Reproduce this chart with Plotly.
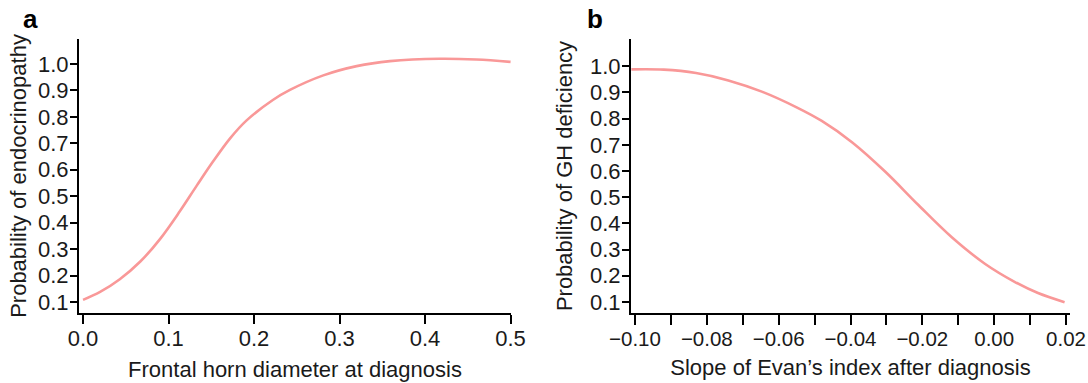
import plotly.graph_objects as go

# Panel a: frontal horn diameter vs probability of endocrinopathy
a_x = [0.0, 0.020, 0.043, 0.067, 0.090, 0.113, 0.133, 0.152, 0.172, 0.191, 0.222, 0.242, 0.281, 0.320, 0.359, 0.417, 0.460, 0.500]
a_y = [0.108, 0.138, 0.186, 0.253, 0.338, 0.442, 0.540, 0.631, 0.719, 0.786, 0.864, 0.902, 0.957, 0.992, 1.011, 1.020, 1.017, 1.008]

# Panel b: slope of Evan's index vs probability of GH deficiency
b_x = [-0.101, -0.092, -0.083, -0.074, -0.0645, -0.055, -0.048, -0.0395, -0.0303, -0.0211, -0.0118, -0.0026, 0.0058, 0.0122, 0.0196]
b_y = [0.988, 0.987, 0.974, 0.946, 0.902, 0.843, 0.791, 0.709, 0.597, 0.470, 0.347, 0.246, 0.176, 0.134, 0.099]

y_ticks = [0.1, 0.2, 0.3, 0.4, 0.5, 0.6, 0.7, 0.8, 0.9, 1.0]
y_labels = ["0.1", "0.2", "0.3", "0.4", "0.5", "0.6", "0.7", "0.8", "0.9", "1.0"]
a_xticks = [0.0, 0.1, 0.2, 0.3, 0.4, 0.5]
a_xlabels = ["0.0", "0.1", "0.2", "0.3", "0.4", "0.5"]
b_xticks = [-0.10, -0.09, -0.08, -0.07, -0.06, -0.05, -0.04, -0.03, -0.02, -0.01, 0.00, 0.01, 0.02]
b_xlabels = ["\u22120.10", "", "\u22120.08", "", "\u22120.06", "", "\u22120.04", "", "\u22120.02", "", "0.00", "", "0.02"]

LINE = "rgb(249,152,152)"
FONT = "Liberation Sans, Arial, Helvetica, sans-serif"
TXT = "#1a1a1a"
FS = 22
W, H = 1088, 383
T, B = 39, 383 - 313
PH = H - T - B

fig = go.Figure()
fig.add_trace(go.Scatter(x=a_x, y=a_y, mode="lines", line=dict(color=LINE, width=2.6, shape="spline", smoothing=1.0),
                         xaxis="x", yaxis="y", showlegend=False, hoverinfo="skip"))
fig.add_trace(go.Scatter(x=b_x, y=b_y, mode="lines", line=dict(color=LINE, width=2.6, shape="spline", smoothing=1.0),
                         xaxis="x2", yaxis="y2", showlegend=False, hoverinfo="skip"))

axis_common = dict(showgrid=False, zeroline=False, showline=True, linecolor="black", linewidth=2,
                   ticks="outside", tickcolor="black", tickwidth=2, mirror=False, automargin=False)

def px(p):
    return p / W

fig.update_layout(
    width=W, height=H,
    margin=dict(l=0, r=0, t=T, b=B),
    paper_bgcolor="white", plot_bgcolor="white",
    font=dict(family=FONT, size=FS, color=TXT),
    xaxis=dict(domain=[px(79), px(511)], range=[-0.0047, 0.5005], tickvals=a_xticks, ticktext=a_xlabels,
               ticklen=9, anchor="y", ticklabelstandoff=-4, tickfont=dict(family=FONT, size=FS, color=TXT),
               title=dict(text="Frontal horn diameter at diagnosis", font=dict(family=FONT, size=FS, color=TXT), standoff=11),
               **axis_common),
    yaxis=dict(domain=[0, 1], range=[0.0584, 1.0946], tickvals=y_ticks, ticktext=y_labels, ticklen=7,
               anchor="x", ticklabelstandoff=-3, tickfont=dict(family=FONT, size=FS, color=TXT),
               title=dict(text="Probability of endocrinopathy", font=dict(family=FONT, size=FS, color=TXT), standoff=5),
               **axis_common),
    xaxis2=dict(domain=[px(631), px(1070)], range=[-0.10111, 0.02111], tickvals=b_xticks, ticktext=b_xlabels,
                ticklen=10, anchor="y2", ticklabelstandoff=-4, ticklabeloverflow="allow",
                tickfont=dict(family=FONT, size=20.5, color=TXT),
                title=dict(text="Slope of Evan\u2019s index after diagnosis", font=dict(family=FONT, size=FS, color=TXT), standoff=11),
                **axis_common),
    yaxis2=dict(domain=[0, 1], range=[0.0577, 1.104], tickvals=y_ticks, ticktext=y_labels, ticklen=7,
                anchor="x2", ticklabelstandoff=-3, tickfont=dict(family=FONT, size=FS, color=TXT),
                title=dict(text="Probability of GH deficiency", font=dict(family=FONT, size=FS, color=TXT), standoff=11),
                **axis_common),
    annotations=[
        dict(text="<b>a</b>", x=21 / W, y=1 + (T - 19) / PH, xref="paper", yref="paper", xanchor="left", yanchor="middle",
             showarrow=False, font=dict(family=FONT, size=26, color="black")),
        dict(text="<b>b</b>", x=585 / W, y=1 + (T - 19) / PH, xref="paper", yref="paper", xanchor="left", yanchor="middle",
             showarrow=False, font=dict(family=FONT, size=26, color="black")),
    ],
)

fig.write_html("out.html", config={"displayModeBar": False, "staticPlot": True},
               post_script="document.body.style.margin='0px';document.body.style.padding='0px';"
                           "document.documentElement.style.overflow='hidden';")
